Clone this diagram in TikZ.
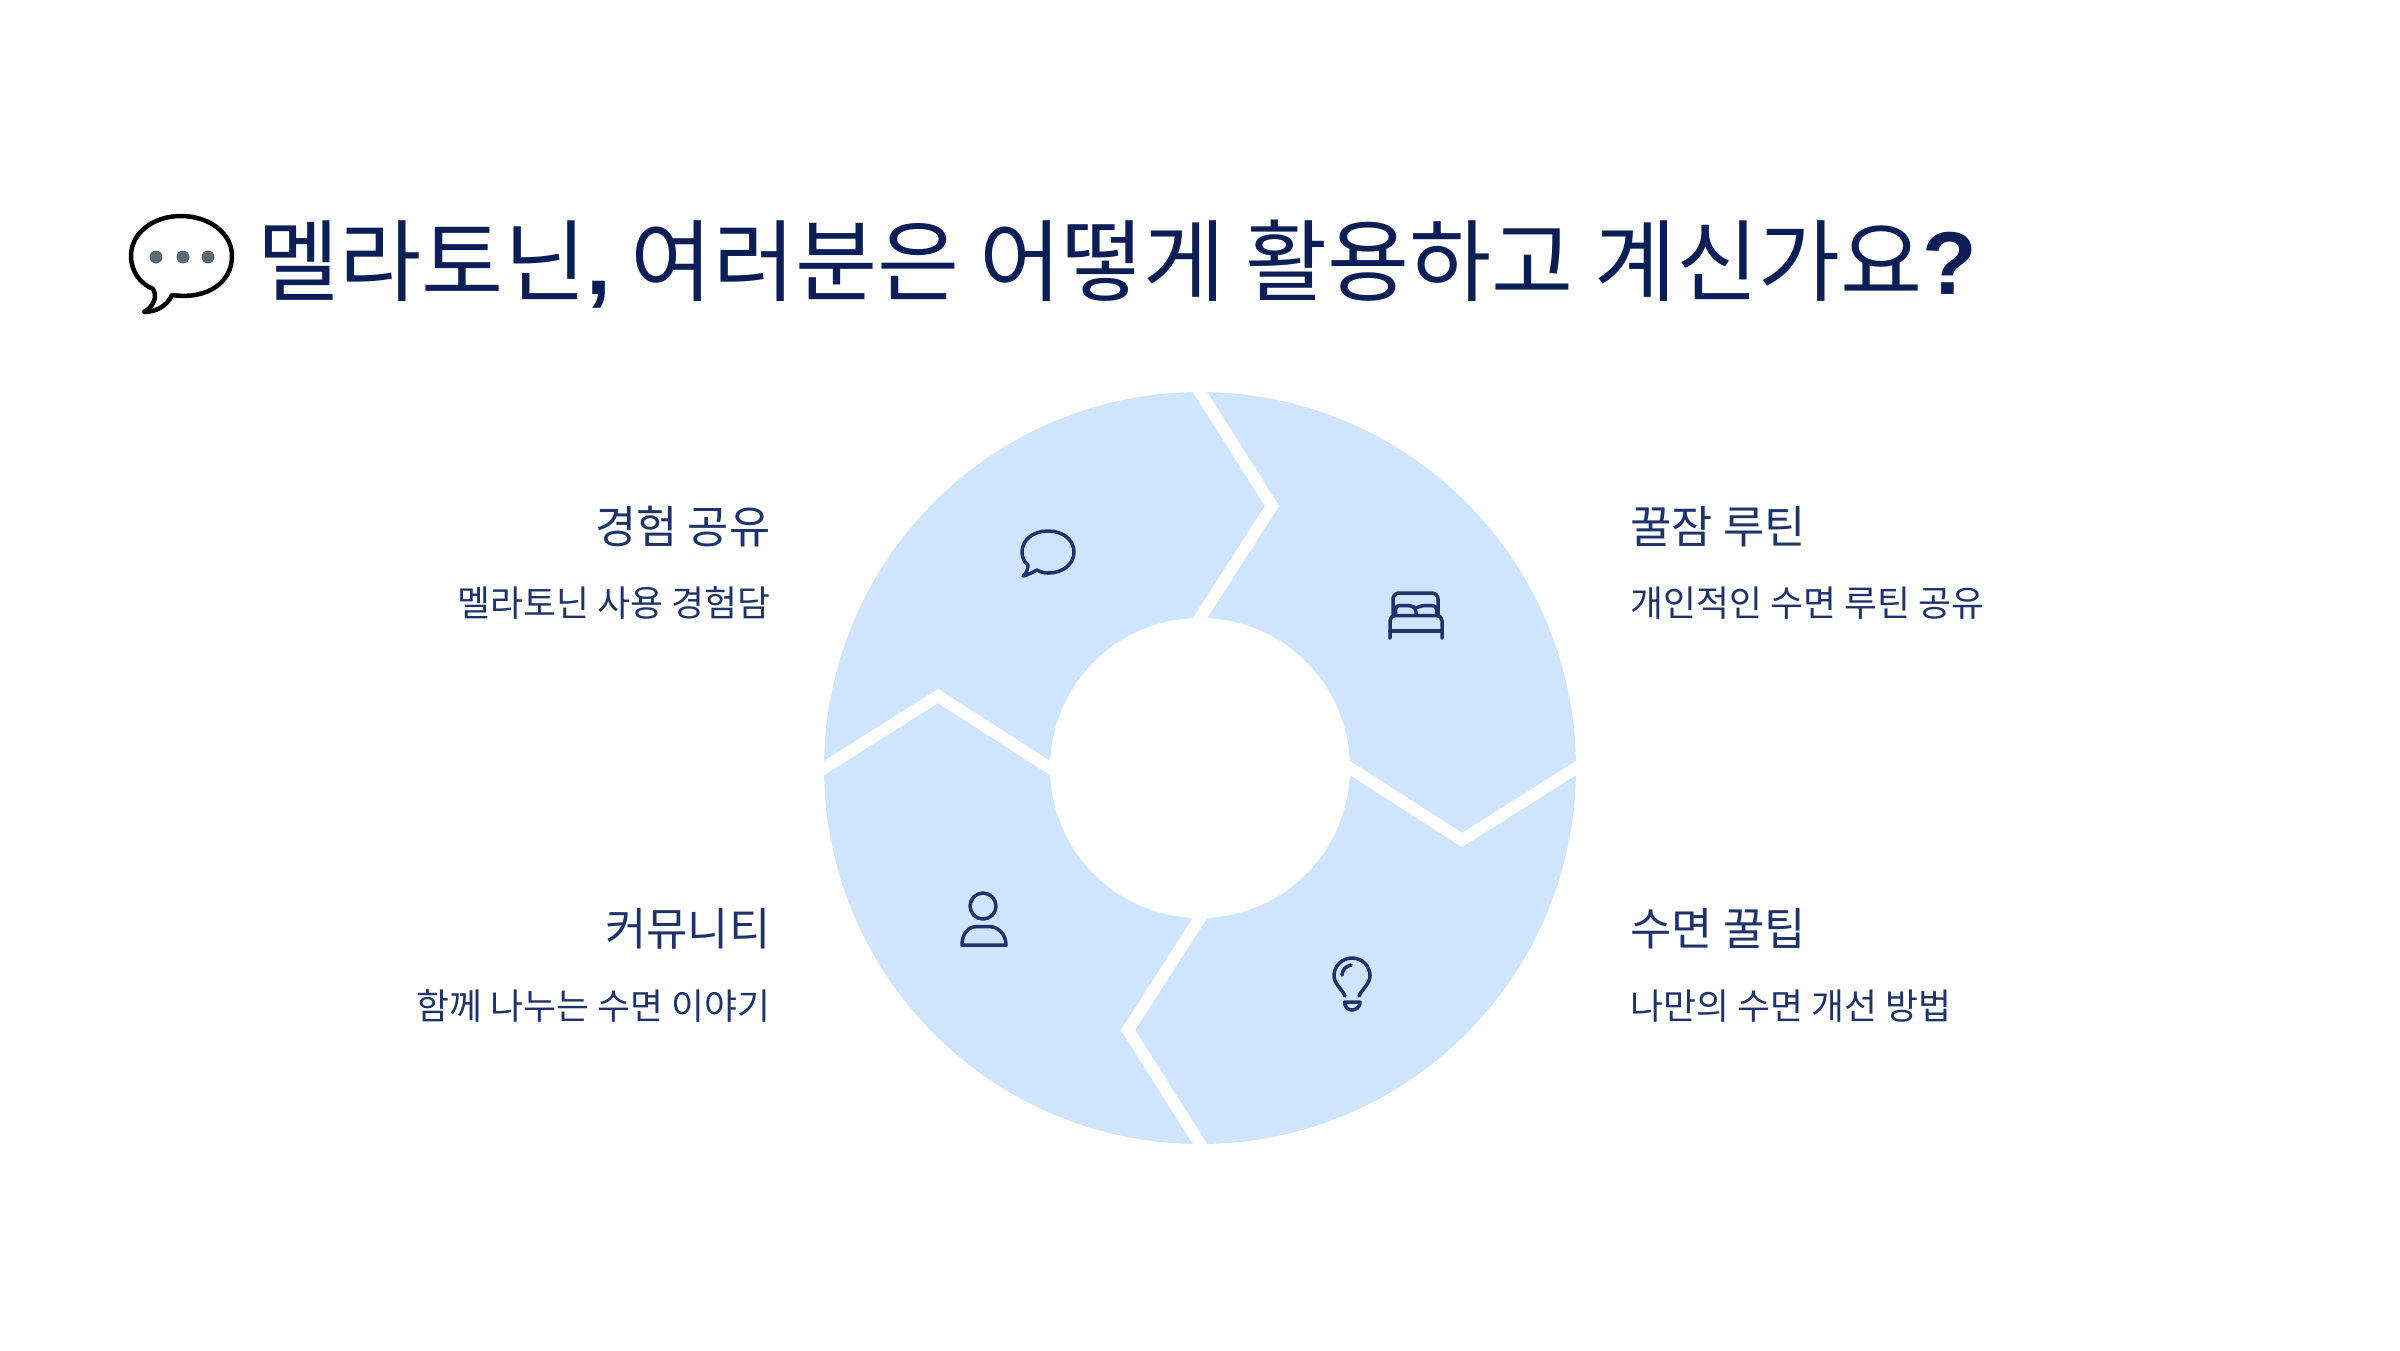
\documentclass[tikz,border=0pt]{standalone}
\usepackage{fontspec}
\setmainfont{Noto Sans CJK KR}
\newfontfamily\latinbold{Liberation Sans Bold}
\usepackage{tikz}

\definecolor{navy}{HTML}{0B1F56}
\definecolor{labelnavy}{HTML}{1E3369}
\definecolor{petal}{HTML}{CFE5FD}
\definecolor{dots}{HTML}{5B6B75}

\tikzset{
    x=0.01cm, y=-0.01cm,
    headtext/.style={inner sep=0pt, text=labelnavy, font=\fontsize{4.48mm}{4.48mm}\selectfont},
    subtext/.style={inner sep=0pt, text=labelnavy, font=\fontsize{3.58mm}{3.58mm}\selectfont},
    icon/.style={draw=labelnavy, line width=0.035cm, line cap=round, line join=round},
    gap/.style={white, line width=0.12cm, miter limit=10, shorten >=-0.1cm, shorten <=-0.1cm},
}

\begin{document}
\begin{tikzpicture}

    % 캔버스
    \useasboundingbox (0,0) rectangle (2400,1350);

    % 파라미터
    \pgfmathsetmacro{\rout}{376}
    \pgfmathsetmacro{\rin}{150}

    % 점의 정의
    \coordinate (O) at (1200,768);
    \coordinate (T) at (1200,392);
    \coordinate (R) at (1576,768);
    \coordinate (B) at (1200,1144);
    \coordinate (L) at (824,768);
    \coordinate (Ta) at (1200,618);
    \coordinate (Ra) at (1350,768);
    \coordinate (Ba) at (1200,918);
    \coordinate (La) at (1050,768);
    \coordinate (Tt) at (1272,506);
    \coordinate (Rt) at (1462,840);
    \coordinate (Bt) at (1128,1030);
    \coordinate (Lt) at (938,696);

    % 원의 묘화
    \fill [petal] (O) circle (\rout);
    \draw [gap] (T) -- (Tt) -- (Ta);
    \draw [gap] (R) -- (Rt) -- (Ra);
    \draw [gap] (B) -- (Bt) -- (Ba);
    \draw [gap] (L) -- (Lt) -- (La);
    \fill [white] (O) circle (\rin);

    % 제목
    \draw [black, line width=0.045cm, line join=round]
        (181,216) .. controls (153,216) and (131,233) .. (131,256)
        .. controls (131,272) and (141,284) .. (153,289)
        .. controls (158,297) and (153,307) .. (144,312)
        .. controls (156,312) and (167,306) .. (172,295)
        .. controls (208,300) and (232,282) .. (232,256)
        .. controls (232,233) and (209,216) .. (181,216) -- cycle;
    \fill [dots] (156,257) circle (6.5);
    \fill [dots] (183,257) circle (6.5);
    \fill [dots] (208,257) circle (6.5);
    \node (title) [anchor=base west, inner sep=0pt, text=navy,
        font=\fontsize{8.92mm}{8.92mm}\selectfont] at (257,294)
        {멜라토닌{\latinbold ,} 여러분은 어떻게 활용하고 계신가요{\latinbold ?}};

    % 라벨
    \node (share) [headtext, anchor=base east] at (771,543) {경험 공유};
    \node (shareb) [subtext, anchor=base east] at (771,616) {멜라토닌 사용 경험담};
    \node (comm) [headtext, anchor=base east] at (771,945) {커뮤니티};
    \node (commb) [subtext, anchor=base east] at (771,1019) {함께 나누는 수면 이야기};
    \node (routine) [headtext, anchor=base west] at (1630,543) {꿀잠 루틴};
    \node (routineb) [subtext, anchor=base west] at (1630,616) {개인적인 수면 루틴 공유};
    \node (tips) [headtext, anchor=base west] at (1630,945) {수면 꿀팁};
    \node (tipsb) [subtext, anchor=base west] at (1630,1019) {나만의 수면 개선 방법};

    % 말풍선
    \draw [icon] (1037,570) .. controls (1041,572.5) and (1045,573) .. (1048,573)
        .. controls (1063,573) and (1074,564) .. (1074,552)
        .. controls (1074,540) and (1063,531) .. (1048,531)
        .. controls (1033,531) and (1022,540) .. (1022,552)
        .. controls (1022,557) and (1024,562) .. (1028,565)
        .. controls (1028,570) and (1026,574) .. (1023,576)
        .. controls (1028,575) and (1033,572) .. (1037,570) -- cycle;

    % 침대
    \draw [icon, rounded corners=0.06cm] (1393,615) -- (1393,593) -- (1438,593) -- (1438,615);
    \draw [icon, rounded corners=0.05cm] (1390,638) -- (1390,615.5) -- (1442,615.5) -- (1442,638);
    \draw [icon] (1390,631) -- (1442,631);
    \draw [icon, rounded corners=0.04cm] (1395.5,615) -- (1395.5,605.5) -- (1411,605.5) -- (1416,608) -- (1416,615);
    \draw [icon, rounded corners=0.04cm] (1416,608) -- (1421,605.5) -- (1436.5,605.5) -- (1436.5,615);

    % 사람
    \draw [icon] (983,906) circle (13);
    \draw [icon] (962,945) -- (1006,945)
        .. controls (1006,934) and (998,926.5) .. (989,926.5) -- (977,926.5)
        .. controls (968,926.5) and (962,934) .. (962,945) -- cycle;

    % 전구
    \draw [icon] (1345,996) .. controls (1342,989) and (1334,984) .. (1334,975.5)
        .. controls (1334,966) and (1342,958) .. (1352,958)
        .. controls (1362,958) and (1370,966) .. (1370,975.5)
        .. controls (1370,984) and (1362,989) .. (1359,996);
    \draw [icon] (1342,975) .. controls (1342,970) and (1346,966) .. (1351,965);
    \draw [icon] (1344.5,1002) -- (1360,1002)
        .. controls (1360,1007) and (1356,1010) .. (1352,1010)
        .. controls (1348,1010) and (1344.5,1007) .. (1344.5,1002) -- cycle;

\end{tikzpicture}
\end{document}
